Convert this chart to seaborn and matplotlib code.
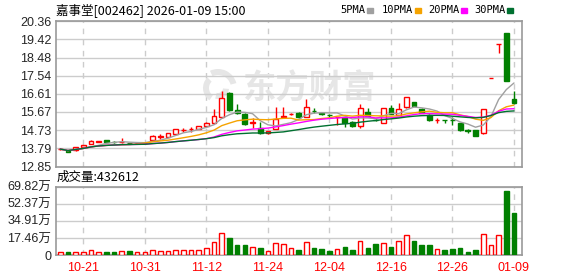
import numpy as np
import pandas as pd
import matplotlib
matplotlib.use("Agg")
import matplotlib.pyplot as plt
import matplotlib.patches as mpatches
import matplotlib.transforms as mtransforms
import seaborn as sns

# ---------------- data ----------------
opens = [13.73, 13.66, 13.68, 13.88, 14.01, 14.14, 14.20, 14.12, 14.10, 14.07,
         14.05, 14.05, 14.23, 14.39, 14.37, 14.54, 14.74, 14.77, 14.80, 14.97,
         15.12, 15.40, 16.67, 15.78, 15.58, 15.10, 14.86, 14.57, 14.79, 15.42,
         15.56, 15.64, 15.43, 15.73, 15.61, 15.52, 15.39, 15.40, 15.16, 14.97,
         15.67, 15.27, 15.12, 15.90, 15.52, 15.92, 16.19, 15.83, 15.52, 15.25,
         15.27, 15.27, 15.09, 14.71, 14.75, 14.57, 17.42, 19.17, 19.76, 16.35]
closes = [13.75, 13.60, 13.85, 13.94, 14.18, 14.16, 14.11, 14.10, 14.12, 14.05,
          14.07, 14.07, 14.44, 14.41, 14.57, 14.78, 14.76, 14.79, 14.93, 15.11,
          15.47, 16.38, 15.75, 15.62, 15.03, 15.13, 14.57, 14.69, 15.31, 15.45,
          15.56, 15.40, 15.92, 15.71, 15.58, 15.49, 15.41, 15.12, 14.92, 15.87,
          15.47, 15.24, 15.85, 15.56, 15.81, 16.43, 15.98, 15.64, 15.26, 15.27,
          15.25, 15.25, 14.75, 14.71, 14.45, 15.81, 17.42, 19.17, 17.29, 16.16]
highs = [13.80, 13.67, 13.86, 13.95, 14.20, 14.17, 14.22, 14.16, 14.30, 14.09,
         14.14, 14.08, 14.46, 14.52, 14.59, 14.80, 14.86, 14.90, 14.95, 15.13,
         15.81, 16.76, 16.68, 16.09, 15.60, 15.34, 15.17, 14.70, 15.91, 15.93,
         15.62, 15.66, 16.35, 15.86, 15.66, 15.56, 15.43, 15.43, 15.18, 16.09,
         15.87, 15.30, 15.87, 16.05, 16.12, 16.44, 16.21, 15.85, 15.54, 15.35,
         15.27, 15.43, 15.10, 14.81, 14.76, 15.82, 17.42, 19.17, 19.76, 16.76]
lows = [13.70, 13.58, 13.67, 13.87, 14.00, 14.13, 14.10, 14.06, 14.08, 14.03,
        14.03, 14.04, 14.21, 14.28, 14.36, 14.53, 14.61, 14.64, 14.79, 14.95,
        15.10, 15.38, 15.73, 15.58, 14.98, 14.83, 14.55, 14.55, 14.77, 15.40,
        15.50, 15.38, 15.41, 15.61, 15.52, 15.42, 15.00, 14.90, 14.88, 14.83,
        15.45, 15.20, 15.10, 15.54, 15.50, 15.90, 15.96, 15.60, 15.22, 15.09,
        15.09, 14.99, 14.70, 14.57, 14.42, 14.55, 17.42, 18.71, 17.29, 16.10]
volumes_wan = [2.7, 3.0, 2.7, 2.7, 4.7, 2.7, 3.0, 3.0, 4.0, 4.0,
               2.7, 2.7, 5.3, 4.0, 4.0, 5.3, 4.7, 4.7, 4.7, 6.7,
               13.0, 22.7, 17.0, 10.0, 10.0, 7.7, 7.0, 3.7, 12.7, 11.0,
               6.7, 5.0, 13.7, 7.0, 6.0, 4.0, 5.7, 8.0, 5.0, 14.7,
               7.0, 11.0, 12.7, 8.0, 14.7, 20.7, 14.0, 10.0, 10.0, 5.7,
               5.0, 6.0, 7.0, 3.0, 5.0, 21.7, 10.7, 20.7, 65.0, 43.2612]
date_positions = [3, 11, 19, 27, 35, 43, 51, 59]
date_labels = ["10-21", "10-31", "11-12", "11-24", "12-04", "12-16", "12-26", "01-09"]
price_ticks = [12.85, 13.79, 14.73, 15.67, 16.61, 17.54, 18.48, 19.42, 20.36]
vol_ticks = [0, 17.46, 34.91, 52.37, 69.82]
vol_tick_labels = ["0", "17.46万", "34.91万", "52.37万", "69.82万"]
ma_periods = [5, 10, 20, 30]
ma_names = ["5PMA", "10PMA", "20PMA", "30PMA"]
ma_colors = ["#a0a0a0", "#f5a300", "#ff00ff", "#007030"]

# ---------------- styling ----------------
sns.set_style("white")
plt.rcParams["font.family"] = ["Liberation Sans", "Noto Sans CJK SC", "DejaVu Sans"]

W, H = 578, 276
fig = plt.figure(figsize=(W / 100, H / 100), dpi=100)

def fx(px):
    return px / W

def fy(py):
    return 1 - py / H

left, right = 55.5, 522.3
ax = fig.add_axes([fx(left), fy(166.5), fx(right - left), (166.5 - 21.3) / H])
axv = fig.add_axes([fx(left), fy(255.0), fx(right - left), (255.0 - 186.7) / H])

RED = "#ff0000"
GREEN = "#008000"
GRID = "#cccccc"
BORDER = "#999999"
WM = "#e6e6e6"

n = len(closes)
idx = np.arange(n)
df = pd.DataFrame({"i": idx, "open": opens, "close": closes, "high": highs,
                   "low": lows, "vol": volumes_wan})
prev_close = df["close"].shift(1).fillna(df["close"])
up = (df["close"] > df["open"]) | ((df["close"] == df["open"]) & (df["close"] >= prev_close))

xlim = (-0.62, 60.08)

for a in (ax, axv):
    a.set_xlim(*xlim)
    for s in a.spines.values():
        s.set_color(BORDER)
        s.set_linewidth(1.2)
    for p in date_positions:
        a.axvline(p, color=GRID, lw=1, ls=(0, (4, 4)), zorder=0)
    a.tick_params(length=0, pad=3, labelsize=9)

# price axis
ax.set_ylim(price_ticks[0], price_ticks[-1])
ax.set_yticks(price_ticks)
ax.set_yticklabels([f"{t:.2f}" for t in price_ticks])
ax.yaxis.grid(True, color=GRID, lw=1, zorder=0)
ax.set_axisbelow(True)
ax.set_xticks([])

# watermark (logo swirl + text)
ident = mtransforms.IdentityTransform()
cx, cy = 218, H - 88
for r, t1, t2 in [(19, 15, 115), (15, 135, 235), (11, 255, 355)]:
    w = mpatches.Wedge((cx, cy), r, t1, t2, width=6, facecolor=WM, edgecolor="none",
                       transform=ident, zorder=0.5)
    ax.add_artist(w)
ax.text(fx(309), fy(89), "东方财富", transform=fig.transFigure, ha="center",
        va="center", fontsize=24, fontweight="bold", color=WM,
        family=["Noto Sans CJK SC"], zorder=0.5)

# candles
bw = 0.62
for i in range(n):
    o, c, h, l = opens[i], closes[i], highs[i], lows[i]
    col = RED if up[i] else GREEN
    ax.vlines(i, l, h, color=col, lw=1, zorder=2)
    bottom = min(o, c)
    height = max(abs(c - o), 0.004)
    ax.bar(i, height, bottom=bottom, width=bw,
           facecolor="white" if up[i] else col, edgecolor=col, lw=1, zorder=3)

# moving averages
for p, name, colr in zip(ma_periods, ma_names, ma_colors):
    ma = df["close"].rolling(p, min_periods=1).mean()
    sns.lineplot(x=df["i"], y=ma, ax=ax, color=colr, lw=1, legend=False, zorder=4)
ax.set_xlabel("")
ax.set_ylabel("")
ax.set_xlim(*xlim)

# volume
axv.set_ylim(0, vol_ticks[-1])
axv.set_yticks(vol_ticks)
axv.set_yticklabels(vol_tick_labels)
axv.yaxis.grid(True, color=GRID, lw=1, zorder=0)
axv.set_axisbelow(True)
for i in range(n):
    col = RED if up[i] else GREEN
    axv.bar(i, volumes_wan[i], width=0.6, facecolor="white" if up[i] else col,
            edgecolor=col, lw=1, zorder=3)
axv.set_xticks(date_positions)
axv.set_xticklabels(date_labels, color=RED, fontsize=9)
axv.tick_params(axis="x", pad=5)

# header texts
fig.text(fx(55.5), fy(10), "嘉事堂[002462] 2026-01-09 15:00", ha="left", va="center",
         fontsize=9, color="#000000", family=["Noto Sans CJK SC", "DejaVu Sans"])
leg_x = [340, 381.5, 428, 474]
sq_x = [367, 415, 461, 507]
for name, colr, lx, sx in zip(ma_names, ma_colors, leg_x, sq_x):
    fig.text(fx(lx), fy(10), name, ha="left", va="center", fontsize=7.5, color="#000000",
             family=["DejaVu Sans Mono"])
    fig.patches.append(plt.Rectangle((fx(sx), fy(12.5)), fx(6), 5 / H, color=colr,
                                     transform=fig.transFigure, figure=fig))
fig.text(fx(57), fy(177), "成交量:" + str(int(round(volumes_wan[-1] * 10000))), ha="left",
         va="center", fontsize=9, color="#000000", family=["Noto Sans CJK SC", "DejaVu Sans"])

fig.savefig("out.png", dpi=100)
